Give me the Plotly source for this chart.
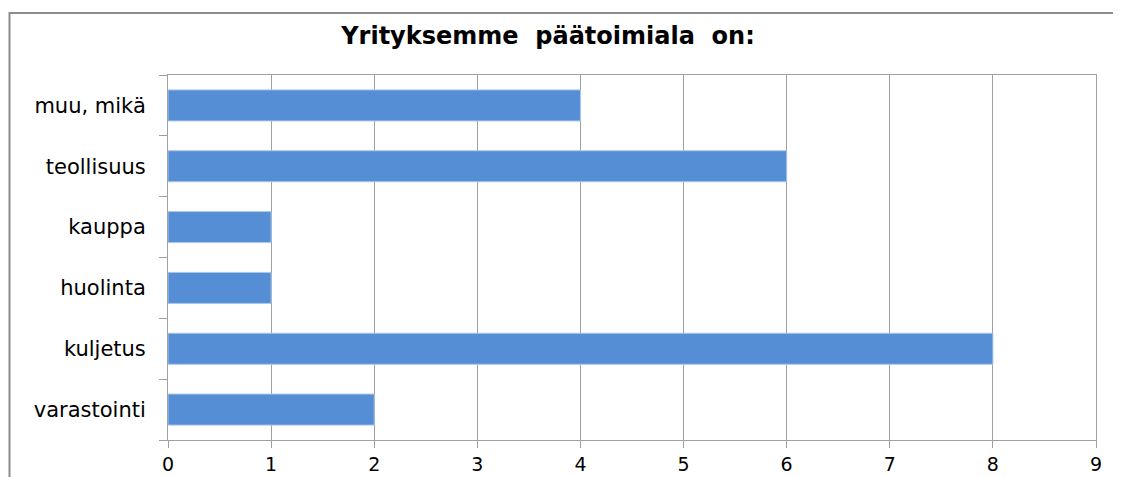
import plotly.graph_objects as go

categories = ["varastointi", "kuljetus", "huolinta", "kauppa", "teollisuus", "muu, mikä"]
values = [2, 8, 1, 1, 6, 4]
x_ticks = [0, 1, 2, 3, 4, 5, 6, 7, 8, 9]
title_text = "Yrityksemme  päätoimiala  on:"

fig = go.Figure(go.Bar(
    y=categories, x=values, orientation="h",
    marker=dict(color="#558ED5", line=dict(color="#A9C6EC", width=1)),
    width=0.51,
))

OFF = 8  # page body margin
W, H = 1121 - OFF, 477 - OFF
L, T = 168 - OFF, 75 - OFF
R = W - (1096 - OFF)
B = H - (440 - OFF)
pw, ph = W - L - R, H - T - B

fig.update_layout(
    width=W, height=H,
    margin=dict(l=L, r=R, t=T, b=B, autoexpand=False),
    paper_bgcolor="white", plot_bgcolor="white",
    showlegend=False,
    title=dict(text="<b>" + title_text + "</b>", x=(548 - OFF) / W, xanchor="center",
               y=1 - (36 - OFF) / H, yanchor="middle",
               font=dict(family="DejaVu Sans", size=24, color="black")),
    xaxis=dict(range=[0, 9], tickvals=x_ticks, showgrid=True, gridcolor="#A0A0A0", gridwidth=1,
               showline=True, linecolor="#A0A0A0", linewidth=1, mirror=True,
               ticks="outside", ticklen=7, tickcolor="#A0A0A0", automargin=False,
               tickfont=dict(family="DejaVu Sans", size=19, color="black"),
               zeroline=False, fixedrange=True),
    yaxis=dict(categoryorder="array", categoryarray=categories,
               showgrid=False, showline=True, linecolor="#A0A0A0", linewidth=1, mirror=True,
               ticks="outside", ticklen=8, tickcolor="#A0A0A0", tickson="boundaries",
               ticklabelstandoff=17, automargin=False,
               tickfont=dict(family="DejaVu Sans", size=21, color="black"),
               fixedrange=True),
    shapes=[dict(type="rect", xref="paper", yref="paper",
                 x0=(9.5 - OFF - L) / pw, x1=(1121.5 - OFF - L) / pw,
                 y0=-0.2, y1=(H - B - (13 - OFF)) / ph,
                 line=dict(color="#8C8C8C", width=2), fillcolor="rgba(0,0,0,0)", layer="below")],
)

fig.write_html("out.html")
